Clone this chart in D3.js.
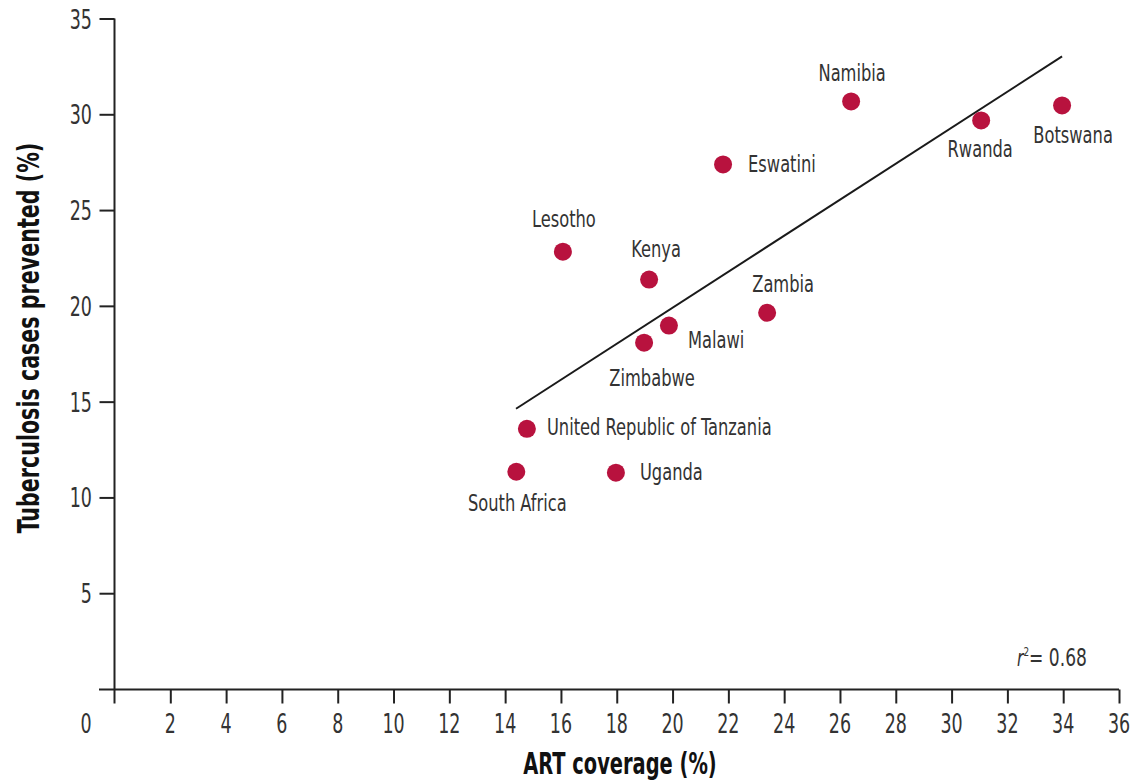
<!DOCTYPE html>
<html><head><meta charset="utf-8">
<script src="https://cdn.jsdelivr.net/npm/d3@7"></script>
<style>
body{margin:0;background:#fff;}
text{font-family:"DejaVu Sans Condensed","DejaVu Sans",sans-serif;fill:#333;}
</style></head><body>
<svg id="chart" width="1136" height="780"></svg>
<script>
const countries = ["Namibia","Botswana","Rwanda","Eswatini","Lesotho","Kenya","Zambia","Malawi","Zimbabwe","United Republic of Tanzania","South Africa","Uganda"];
const artCoverage = [26.4,33.96,31.06,21.81,16.07,19.16,23.39,19.87,18.98,14.78,14.4,17.97];
const tbPrevented = [30.67,30.46,29.68,27.38,22.83,21.37,19.64,18.97,18.08,13.58,11.34,11.29];
// label layout (offset from dot in px, anchor)
const labelDx = [1,11,-1,25,1,7,16,19,8,20,1,24];
const labelDy = [-20,38,37,8,-25,-23,-21,22,43,6,39,7];
const labelAnchor = ["middle","middle","middle","start","middle","middle","middle","start","middle","start","middle","start"];
const xTicks = [2,4,6,8,10,12,14,16,18,20,22,24,26,28,30,32,34,36];
const yTicks = [5,10,15,20,25,30,35];
const fitLineX = [14.39,33.96];
const fitLineY = [14.63,33.02];
const rSquared = "0.68";

const SX = 0.77; // horizontal condensing of the font
const svg = d3.select("#chart");
const x = d3.scaleLinear().domain([0,36]).range([114.5,1119]);
const y = d3.scaleLinear().domain([0,35]).range([689,18.5]);

function ctext(parent, px, py, str, size, s, anchor){
  return parent.append("text")
    .attr("transform",`translate(${px},${py}) scale(${s},1)`)
    .attr("text-anchor",anchor||"middle").attr("font-size",size).text(str);
}

// axes
const xAxis = svg.append("g").attr("transform","translate(0,689.5)")
  .call(d3.axisBottom(x).tickValues(xTicks).tickSize(14).tickFormat(""));
xAxis.select(".domain").remove();
xAxis.append("line").attr("x1",99).attr("x2",x(36)).attr("stroke","#222").attr("stroke-width",2);
xAxis.append("line").attr("x1",x(0)).attr("x2",x(0)).attr("y1",0).attr("y2",14).attr("stroke","#222").attr("stroke-width",2);
xAxis.selectAll(".tick line").attr("stroke","#222").attr("stroke-width",2);
xTicks.forEach(t=>ctext(svg, x(t), 733, String(t), 27, 0.72));
ctext(svg, 86, 733, "0", 27, 0.72);

const yAxis = svg.append("g").attr("transform","translate(114.5,0)")
  .call(d3.axisLeft(y).tickValues(yTicks).tickSize(15).tickFormat(""));
yAxis.select(".domain").remove();
yAxis.append("line").attr("y1",y(35)).attr("y2",y(0)).attr("stroke","#222").attr("stroke-width",2);
yAxis.selectAll(".tick line").attr("stroke","#222").attr("stroke-width",2);
yTicks.forEach(t=>ctext(svg, 92, y(t)+10, String(t), 27, 0.72, "end"));

// titles
ctext(svg, 620, 774, "ART coverage (%)", 30, 0.72).attr("font-weight","bold").style("fill","#111");
svg.append("text").attr("transform","translate(39,338) rotate(-90) scale(0.765,1)").attr("text-anchor","middle")
  .attr("font-size",30).attr("font-weight","bold").style("fill","#111").text("Tuberculosis cases prevented (%)");

// fit line
svg.append("line").attr("x1",x(fitLineX[0])).attr("y1",y(fitLineY[0]))
  .attr("x2",x(fitLineX[1])).attr("y2",y(fitLineY[1])).attr("stroke","#1a1a1a").attr("stroke-width",2);

// points
const data = countries.map((c,i)=>({c,x:artCoverage[i],y:tbPrevented[i],dx:labelDx[i],dy:labelDy[i],a:labelAnchor[i]}));
svg.append("g").selectAll("circle").data(data).join("circle")
  .attr("cx",d=>x(d.x)).attr("cy",d=>y(d.y)).attr("r",9).attr("fill","#b8123e");

const lg = svg.append("g");
data.forEach(d=>ctext(lg, x(d.x)+d.dx, y(d.y)+d.dy, d.c, 23.5, SX, d.a));

// r squared
const rt = svg.append("text").attr("transform","translate(1017,666) scale(0.76,1)").attr("font-size",23);
rt.append("tspan").attr("font-style","italic").text("r");
rt.append("tspan").attr("font-size",13).attr("dy",-10).text("2");
rt.append("tspan").attr("dy",10).attr("font-size",25).text("= " + rSquared);
</script></body></html>
